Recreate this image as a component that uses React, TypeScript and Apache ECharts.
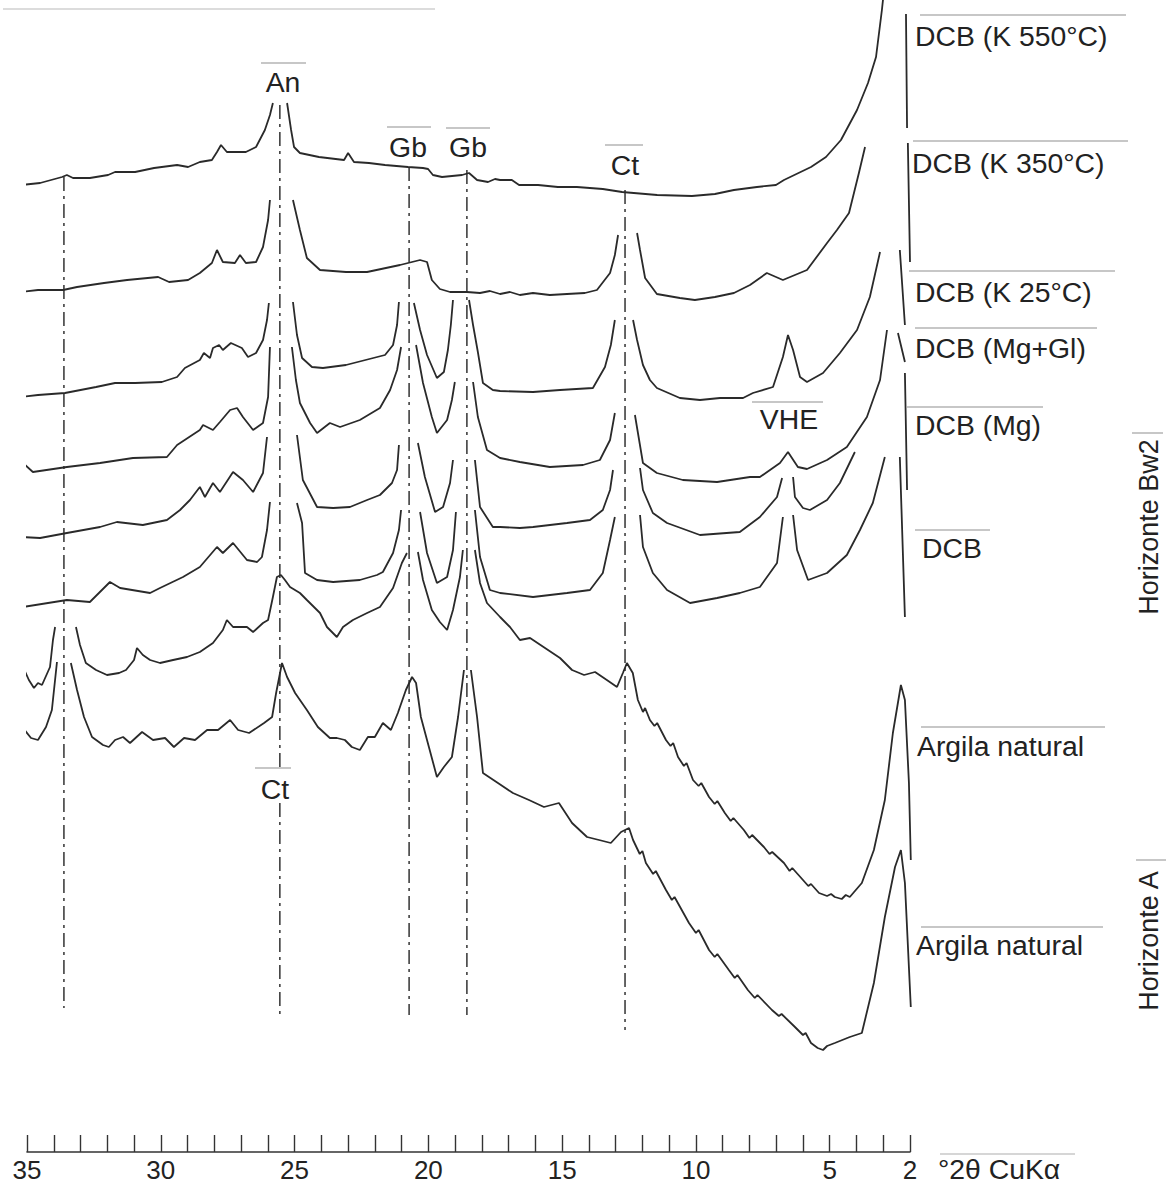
import React, { useEffect, useRef } from "react";
import * as echarts from "echarts";

// x: degrees 2θ (CuKα); y: relative intensity (arbitrary units, patterns offset)
const xTickLabels = [35, 30, 25, 20, 15, 10, 5, 2];

const k550 = [[35.22,967],[34.51,969],[33.69,975],[33.51,977],[33.28,974],[32.65,974],[31.97,977],[31.71,980],[30.96,980],[30.25,984],[29.39,987],[28.98,985],[28.54,990],[28.09,992],[27.90,1000],[27.75,1007],[27.53,1000],[26.82,1000],[26.44,1005],[26.11,1022],[25.92,1037],[25.81,1049],[25.55,null],[25.28,1049],[25.13,1022],[25.02,1005],[24.80,999],[24.09,995],[23.15,992],[23.00,999],[22.78,990],[22.22,989],[21.62,987],[20.76,985],[20.20,984],[20.01,983],[19.83,977],[19.49,975],[18.74,977],[18.48,979],[18.18,972],[17.77,970],[17.51,973],[17.32,972],[16.88,972],[16.61,967],[15.90,967],[15.16,965],[14.45,965],[13.48,963],[12.76,960],[11.45,957],[10.15,956],[9.29,958],[8.58,962],[7.72,965],[7.01,967],[6.71,972],[5.70,985],[5.14,995],[4.58,1012],[3.98,1042],[3.57,1069],[3.27,1095],[3.05,1142],[2.97,1162],[2.5,null],[2.15,1138],[2.11,1024]];

const k350 = [[35.22,860],[34.59,862],[33.65,862],[33.13,865],[32.12,869],[31.26,872],[30.10,875],[29.69,870],[28.98,872],[28.54,879],[28.09,889],[27.90,902],[27.68,890],[27.23,889],[27.04,897],[26.82,889],[26.44,890],[26.18,905],[25.99,932],[25.92,952],[25.5,null],[25.06,952],[24.80,922],[24.54,894],[24.05,882],[23.08,880],[22.29,880],[21.06,887],[20.31,892],[20.05,890],[19.87,872],[19.57,863],[19.19,860],[18.56,860],[18.07,859],[17.70,861],[17.32,858],[16.95,860],[16.58,857],[16.09,859],[15.46,857],[14.82,858],[14.15,859],[13.70,862],[13.21,879],[13.03,897],[12.91,917],[12.55,null],[12.20,919],[12.09,902],[11.90,874],[11.46,858],[10.60,854],[10.04,852],[9.29,855],[8.58,859],[7.98,867],[7.35,879],[6.75,872],[5.85,882],[5.10,909],[4.73,922],[4.28,939],[3.91,979],[3.68,1005],[3.0,null],[2.08,1009],[2.00,890]];

const k25 = [[35.22,755],[34.59,757],[33.58,759],[32.42,765],[31.71,769],[30.96,769],[29.96,770],[29.39,775],[29.10,784],[28.54,792],[28.39,799],[28.16,794],[28.05,804],[27.82,807],[27.68,802],[27.38,809],[26.97,804],[26.74,795],[26.44,799],[26.18,812],[26.03,832],[25.96,849],[25.5,null],[25.06,850],[24.91,817],[24.72,794],[24.35,785],[23.94,784],[23.08,787],[21.62,797],[21.32,807],[21.17,827],[21.10,850],[20.8,null],[20.54,849],[20.31,822],[20.05,797],[19.68,774],[19.42,780],[19.27,802],[19.16,827],[19.08,852],[18.8,null],[18.48,852],[18.33,827],[18.15,800],[17.96,769],[17.59,762],[17.32,761],[16.09,760],[15.08,762],[13.85,764],[13.40,785],[13.18,807],[13.03,832],[12.7,null],[12.35,832],[12.20,812],[11.98,787],[11.72,772],[11.46,764],[10.60,754],[9.85,752],[9.10,754],[8.24,754],[7.87,759],[7.12,765],[6.75,795],[6.56,817],[6.37,802],[6.11,775],[5.85,770],[5.25,779],[4.62,799],[3.98,822],[3.50,855],[3.12,900],[2.8,null],[2.38,902],[2.19,827]];

const mgGl = [[35.19,690],[34.78,680],[33.51,685],[32.27,689],[31.04,694],[29.77,695],[29.39,707],[28.54,722],[28.42,727],[28.05,722],[27.79,730],[27.41,742],[27.15,744],[26.93,735],[26.55,722],[26.18,729],[25.99,755],[25.92,805],[25.5,null],[25.10,805],[24.95,772],[24.80,749],[24.42,729],[24.16,719],[23.68,729],[23.30,725],[22.56,732],[21.81,744],[21.43,762],[21.17,782],[21.02,805],[20.7,null],[20.46,807],[20.20,769],[19.87,735],[19.68,719],[19.30,732],[19.12,752],[19.01,770],[18.7,null],[18.33,770],[18.15,735],[17.81,702],[17.32,694],[16.58,690],[15.46,685],[14.22,687],[13.59,692],[13.21,712],[13.03,739],[12.6,null],[12.28,737],[11.98,689],[11.46,679],[10.49,672],[9.21,670],[7.98,675],[7.61,675],[6.86,689],[6.56,700],[6.19,685],[5.85,683],[5.10,692],[4.36,705],[3.61,735],[3.12,772],[2.86,822],[2.6,null],[2.45,819],[2.19,790]];

const mg = [[35.19,615],[34.51,614],[33.51,619],[32.27,625],[31.64,630],[30.67,627],[29.77,632],[29.28,642],[28.91,652],[28.54,665],[28.35,655],[28.05,669],[27.79,660],[27.30,680],[26.93,672],[26.55,660],[26.18,679],[26.03,715],[25.5,null],[24.91,717],[24.69,672],[24.16,645],[23.56,644],[22.93,645],[22.29,652],[21.81,657],[21.36,669],[21.17,682],[21.10,707],[20.7,null],[20.39,709],[20.13,675],[19.75,640],[19.45,645],[19.19,669],[19.08,692],[18.7,null],[18.26,692],[18.07,645],[17.59,625],[17.32,625],[16.58,624],[16.09,625],[14.82,629],[13.96,632],[13.48,642],[13.21,662],[13.10,682],[12.6,null],[12.09,684],[11.98,662],[11.61,639],[11.08,629],[9.85,617],[8.36,620],[7.61,635],[6.97,655],[6.78,674],[6.55,null],[6.37,675],[6.30,655],[6.00,644],[5.74,642],[5.10,652],[4.62,669],[4.06,700],[3.0,null],[2.19,779],[2.11,662]];

const dcb = [[35.15,545],[33.51,552],[32.65,550],[31.90,570],[31.52,564],[30.40,559],[30.03,564],[29.17,575],[28.54,585],[27.90,605],[27.68,599],[27.30,609],[26.78,592],[26.40,590],[26.22,595],[26.03,622],[25.92,650],[25.5,null],[24.91,649],[24.72,629],[24.61,579],[24.16,572],[23.56,570],[22.56,572],[21.92,577],[21.70,580],[21.32,599],[21.10,622],[21.02,642],[20.7,null],[20.31,640],[20.05,599],[19.68,569],[19.30,575],[19.08,602],[18.97,640],[18.7,null],[18.26,642],[18.07,595],[17.70,562],[17.32,559],[16.09,555],[14.82,559],[13.96,562],[13.48,579],[13.21,612],[13.03,635],[12.6,null],[12.09,637],[11.98,605],[11.61,579],[11.08,562],[10.22,549],[9.21,554],[8.36,559],[7.61,565],[6.97,589],[6.75,635],[6.55,null],[6.37,637],[6.22,602],[5.81,572],[5.10,579],[4.36,597],[3.87,622],[3.39,649],[2.94,695],[2.6,null],[2.38,695],[2.19,535]];

const naturalBw2 = [[35.15,485],[34.93,472],[34.74,464],[34.59,469],[34.44,467],[34.14,485],[34.03,512],[33.95,525],[33.6,null],[33.17,525],[33.02,507],[32.80,489],[32.42,482],[32.01,477],[31.56,479],[31.30,482],[31.00,492],[30.89,504],[30.67,497],[30.40,492],[30.03,489],[29.54,492],[29.02,495],[28.54,500],[28.05,509],[27.68,522],[27.53,532],[27.30,525],[26.78,525],[26.55,520],[26.18,529],[25.99,532],[25.81,555],[25.66,575],[25.51,577],[25.36,572],[25.17,565],[24.80,559],[24.54,552],[24.05,539],[23.79,525],[23.42,515],[23.19,525],[22.82,532],[22.29,539],[21.81,545],[21.32,564],[20.99,589],[20.80,599],[20.6,null],[20.39,600],[20.20,572],[19.87,542],[19.57,530],[19.30,522],[19.08,542],[18.82,575],[18.71,602],[18.5,null],[18.26,602],[18.07,569],[17.81,549],[17.32,535],[16.95,525],[16.58,512],[16.20,514],[15.64,504],[15.08,494],[14.63,482],[14.18,477],[13.77,480],[13.33,472],[12.95,465],[12.73,479],[12.58,489],[12.36,479],[12.17,452],[11.98,440],[11.90,444],[11.72,432],[11.55,426],[11.45,429],[11.12,412],[10.95,406],[10.85,409],[10.67,395],[10.45,386],[10.35,389],[10.11,372],[9.90,366],[9.80,369],[9.51,355],[9.30,348],[9.20,351],[8.92,339],[8.70,331],[8.60,334],[8.21,322],[8.00,314],[7.90,317],[7.46,305],[7.25,298],[7.15,300],[6.71,289],[6.50,281],[6.40,284],[6.00,272],[5.80,266],[5.70,268],[5.40,259],[5.10,256],[4.95,258],[4.81,255],[4.55,253],[4.40,257],[4.25,255],[3.80,269],[3.35,302],[2.94,352],[2.64,419],[2.34,467],[2.19,452],[2.04,369],[1.97,292]];

const naturalA = [[35.15,424],[34.85,414],[34.59,412],[34.29,425],[34.07,442],[33.88,490],[33.6,null],[33.36,489],[33.13,462],[32.87,435],[32.57,415],[32.16,407],[31.94,405],[31.71,412],[31.41,415],[31.15,409],[30.70,420],[30.29,412],[29.84,414],[29.51,405],[29.13,414],[28.72,412],[28.27,422],[27.86,422],[27.41,432],[27.11,422],[26.70,419],[26.14,429],[25.84,435],[25.69,459],[25.47,489],[25.28,475],[24.98,459],[24.54,442],[24.13,425],[23.68,414],[23.42,414],[23.12,412],[22.86,405],[22.56,402],[22.26,415],[22.00,415],[21.70,429],[21.40,422],[21.14,439],[20.84,462],[20.61,475],[20.46,469],[20.28,435],[19.98,405],[19.68,375],[19.42,385],[19.12,395],[18.89,435],[18.67,482],[18.55,null],[18.41,482],[18.18,435],[17.96,379],[17.40,369],[16.84,359],[16.24,352],[15.68,345],[15.12,349],[14.63,329],[14.07,315],[13.62,312],[13.18,309],[12.80,320],[12.50,324],[12.35,312],[12.10,298],[12.00,301],[11.87,289],[11.60,278],[11.50,281],[11.12,262],[10.90,252],[10.80,255],[10.26,229],[10.00,219],[9.90,222],[9.51,202],[9.30,195],[9.20,198],[8.77,182],[8.55,174],[8.45,177],[8.06,162],[7.80,154],[7.70,157],[7.16,142],[6.90,136],[6.80,138],[6.30,125],[6.00,117],[5.90,119],[5.70,109],[5.45,104],[5.25,102],[5.10,106],[4.81,109],[4.25,115],[3.80,119],[3.35,169],[2.94,235],[2.56,285],[2.34,302],[2.19,269],[1.97,145]];

const traces = [
  { name: "DCB (K 550°C)", data: k550 },
  { name: "DCB (K 350°C)", data: k350 },
  { name: "DCB (K 25°C)", data: k25 },
  { name: "DCB (Mg+Gl)", data: mgGl },
  { name: "DCB (Mg)", data: mg },
  { name: "DCB", data: dcb },
  { name: "Argila natural (Bw2)", data: naturalBw2 },
  { name: "Argila natural (A)", data: naturalA },
];

// mineral reflection positions (°2θ) and the intensity spans of the dash-dot guide lines
const peakPositions = [33.62, 25.55, 20.72, 18.56, 12.65];
const guideSpans = [
  [[975, 144]],
  [[1047, 384], [349, 137]],
  [[985, 137]],
  [[982, 137]],
  [[962, 122]],
];

const FONT = '"Liberation Sans", Arial, Helvetica, sans-serif';
const TXT = "#222";
const RULE = "#b5b5b5";

function label(text: string, x: number, y: number, align: string = "left") {
  return {
    type: "text",
    x,
    y,
    scaleX: 1.05,
    style: { text, fill: TXT, font: `27px ${FONT}`, textAlign: align, textVerticalAlign: "middle" },
    silent: true,
  };
}
function rule(x1: number, x2: number, y: number, color: string = RULE) {
  return { type: "line", shape: { x1, y1: y, x2, y2: y }, style: { stroke: color, lineWidth: 1.5 }, silent: true };
}

export default function App() {
  const ref = useRef<HTMLDivElement>(null);
  useEffect(() => {
    document.body.style.margin = "0";
    const chart = echarts.init(ref.current!, null, { renderer: "svg" });
    const series: any[] = traces.map((t) => ({
      type: "line",
      name: t.name,
      data: t.data,
      symbol: "none",
      showSymbol: false,
      clip: false,
      connectNulls: false,
      silent: true,
      z: 3,
      lineStyle: { color: "#2a2a2a", width: 1.8 },
    }));
    peakPositions.forEach((p, i) => {
      guideSpans[i].forEach((s) => {
        series.push({
          type: "line",
          data: [[p, s[0]], [p, s[1]]],
          symbol: "none",
          clip: false,
          silent: true,
          z: 2,
          lineStyle: { color: "#333", width: 1.5, type: [14, 5, 3, 5] },
        });
      });
    });
    chart.setOption({
      animation: false,
      backgroundColor: "#fff",
      grid: { left: 27, right: 262, top: 2, bottom: 39 },
      xAxis: {
        type: "value",
        min: 2,
        max: 35,
        interval: 1,
        inverse: true,
        axisLine: { lineStyle: { color: "#333", width: 1.6 } },
        axisTick: { inside: true, length: 17, lineStyle: { color: "#333", width: 1.4 } },
        splitLine: { show: false },
        axisLabel: {
          showMinLabel: true,
          showMaxLabel: true,
          margin: 5,
          color: TXT,
          fontSize: 26,
          fontFamily: FONT,
          formatter: (v: number) => (xTickLabels.includes(v) ? String(v) : ""),
        },
      },
      yAxis: { type: "value", min: 0, max: 1150, show: false },
      series,
      graphic: [
        rule(3, 435, 9, "#d0d0d0"),
        rule(261, 306, 63),
        label("An", 283, 83, "center"),
        rule(387, 431, 127),
        label("Gb", 408, 148, "center"),
        rule(446, 490, 128),
        label("Gb", 468, 148, "center"),
        rule(605, 643, 145),
        label("Ct", 625, 166, "center"),
        rule(255, 291, 768),
        label("Ct", 275, 790, "center"),
        rule(752, 823, 402),
        label("VHE", 789, 420, "center"),
        rule(920, 1126, 15),
        label("DCB (K 550°C)", 915, 37),
        rule(913, 1128, 141),
        label("DCB (K 350°C)", 912, 164),
        rule(909, 1115, 271),
        label("DCB (K 25°C)", 915, 293),
        rule(915, 1097, 328),
        label("DCB (Mg+Gl)", 915, 349),
        rule(907, 1043, 407),
        label("DCB (Mg)", 915, 426),
        rule(915, 990, 530),
        label("DCB", 922, 549),
        rule(921, 1105, 727),
        label("Argila natural", 917, 747),
        rule(921, 1103, 927),
        label("Argila natural", 916, 946),
        rule(1132, 1163, 433),
        {
          type: "text",
          x: 1149,
          y: 527,
          rotation: Math.PI / 2,
          style: { text: "Horizonte Bw2", fill: TXT, font: `27px ${FONT}`, textAlign: "center", textVerticalAlign: "middle" },
          silent: true,
        },
        rule(1136, 1166, 860),
        {
          type: "text",
          x: 1149,
          y: 941,
          rotation: Math.PI / 2,
          style: { text: "Horizonte A", fill: TXT, font: `27px ${FONT}`, textAlign: "center", textVerticalAlign: "middle" },
          silent: true,
        },
        rule(940, 1075, 1154, "#c8c8c8"),
        label("°2θ CuKα", 938, 1170),
      ],
    });
    return () => chart.dispose();
  }, []);
  return <div ref={ref} style={{ width: 1172, height: 1191 }} />;
}
